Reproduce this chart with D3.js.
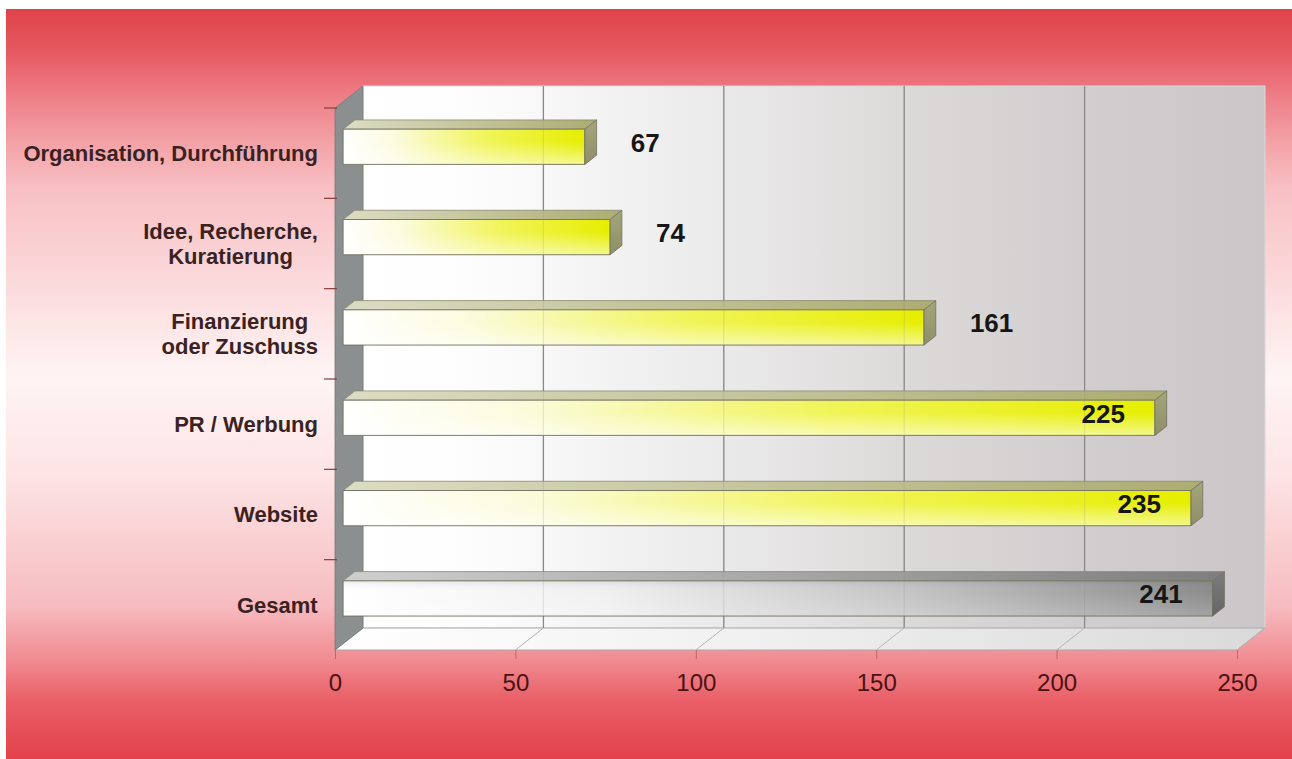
<!DOCTYPE html>
<html><head><meta charset="utf-8">
<script src="https://cdn.jsdelivr.net/npm/d3@7"></script>
<style>body{margin:0;background:#fff;} svg{display:block;}</style>
</head><body>
<svg id="chart" width="1292" height="759"></svg>
<script>
// ---- data ----
const categories = ["Organisation, Durchführung", "Idee, Recherche,\nKuratierung", "Finanzierung\noder Zuschuss", "PR / Werbung", "Website", "Gesamt"];
const values = [67, 74, 161, 225, 235, 241];
const isTotal = [false, false, false, false, false, true];
const xTicks = [0, 50, 100, 150, 200, 250];
const xDomain = [0, 250];

// ---- layout ----
const svg = d3.select("#chart");
const DX = 28, DY = -22;               // depth of the 3D box
const frame = {left: 335, right: 1237, top: 108, bottom: 650};
const barD0 = 0.29, barD1 = 0.71;      // depth span of bars
const x = d3.scaleLinear().domain(xDomain).range([frame.left, frame.right]);
const y = d3.scaleBand().domain(categories).range([frame.top, frame.bottom]);
const barH = y.bandwidth() * 0.39;
const P = (v, yy, d) => [x(v) + d * DX, yy + d * DY];
const poly = pts => "M" + pts.map(p => p.join(",")).join("L") + "Z";

const defs = svg.append("defs");
function lin(id, x2, y2, stops) {
  const g = defs.append("linearGradient").attr("id", id)
    .attr("x1", 0).attr("y1", 0).attr("x2", x2).attr("y2", y2);
  stops.forEach(s => g.append("stop").attr("offset", s[0]).attr("stop-color", s[1])
    .attr("stop-opacity", s[2] === undefined ? 1 : s[2]));
}
lin("bg", 0, 1, [[0, "#df434a"], [0.055, "#e65860"], [0.12, "#ee8088"], [0.19, "#f4a8ad"], [0.24, "#f8c0c4"],
  [0.49, "#fff4f4"], [0.62, "#fde4e5"], [0.795, "#f6bcc0"], [0.87, "#f08a90"], [0.92, "#ea6068"], [1, "#e3414b"]]);
lin("wall", 1, 0, [[0, "#ffffff"], [0.12, "#fdfdfd"], [0.4, "#ebeaea"], [0.6, "#dcd9d9"], [0.8, "#d2cecf"], [1, "#cbc7c8"]]);
lin("floor", 1, 0, [[0, "#ffffff"], [0.4, "#f2f2f2"], [1, "#dadada"]]);
lin("fY", 1, 0, [[0, "#ffffff"], [0.22, "#fbfbdc"], [0.6, "#f1f458"], [1, "#e6ee00"]]);
lin("fG", 1, 0, [[0, "#ffffff"], [0.3, "#f0f0f0"], [0.65, "#c4c4c4"], [1, "#8c8c8c"]]);
lin("shineY", 0, 1, [[0, "#ffffff", 0], [0.35, "#ffffff", 0], [1, "#ffffff", 0.55]]);
lin("shineG", 0, 1, [[0, "#000000", 0.08], [0.3, "#ffffff", 0], [1, "#ffffff", 0.2]]);
lin("tY", 1, 0, [[0, "#dcdcc4"], [1, "#acac72"]]);
lin("tG", 1, 0, [[0, "#cfcfcf"], [1, "#7e7e7e"]]);
lin("sY", 0, 1, [[0, "#a6a67a"], [1, "#8e8e68"]]);
lin("sG", 0, 1, [[0, "#7c7c7c"], [1, "#666666"]]);

// background
svg.append("rect").attr("x", 6).attr("y", 9).attr("width", 1286).attr("height", 750).attr("fill", "url(#bg)");

const yTop = frame.top, yBot = frame.bottom;
// back wall
const bw0 = P(xDomain[0], yTop, 1), bw1 = P(xDomain[1], yBot, 1);
svg.append("rect").attr("x", bw0[0]).attr("y", bw0[1]).attr("width", bw1[0] - bw0[0]).attr("height", bw1[1] - bw0[1])
  .attr("fill", "url(#wall)").attr("stroke", "#d8d8d8").attr("stroke-width", 1);
// floor
svg.append("path").attr("d", poly([P(0, yBot, 0), P(xDomain[1], yBot, 0), P(xDomain[1], yBot, 1), P(0, yBot, 1)]))
  .attr("fill", "url(#floor)").attr("stroke", "#a8a8a8").attr("stroke-width", 1);
// left wall
svg.append("path").attr("d", poly([P(0, yTop, 0), P(0, yTop, 1), P(0, yBot, 1), P(0, yBot, 0)]))
  .attr("fill", "#8b8f8f").attr("stroke", "#777").attr("stroke-width", 0.8);

// gridlines
const inner = xTicks.filter(t => t > xDomain[0] && t < xDomain[1]);
svg.append("g").selectAll("line").data(inner).join("line")
  .attr("x1", t => P(t, yTop, 1)[0]).attr("y1", t => P(t, yTop, 1)[1])
  .attr("x2", t => P(t, yBot, 1)[0]).attr("y2", t => P(t, yBot, 1)[1])
  .attr("stroke", "#8a8a8a").attr("stroke-width", 1.3);
svg.append("g").selectAll("line").data(xTicks.slice(1)).join("line")
  .attr("x1", t => P(t, yBot, 0)[0]).attr("y1", t => P(t, yBot, 0)[1])
  .attr("x2", t => P(t, yBot, 1)[0]).attr("y2", t => P(t, yBot, 1)[1])
  .attr("stroke", "#b5b5b5").attr("stroke-width", 1);

// bars
const rows = categories.map((c, i) => ({c, v: values[i], total: isTotal[i]}));
const bars = svg.append("g").selectAll("g").data(rows).join("g");
bars.each(function(d) {
  const g = d3.select(this);
  const yc = y(d.c) + y.bandwidth() / 2;
  const t = yc - barH / 2, b = yc + barH / 2;
  const sfx = d.total ? "G" : "Y";
  g.append("path").attr("d", poly([P(0, t, barD0), P(d.v, t, barD0), P(d.v, t, barD1), P(0, t, barD1)]))
    .attr("fill", `url(#t${sfx})`).attr("stroke", "#8a8a70").attr("stroke-width", 0.8);
  const fp = poly([P(0, t, barD0), P(d.v, t, barD0), P(d.v, b, barD0), P(0, b, barD0)]);
  g.append("path").attr("d", fp).attr("fill", `url(#f${sfx})`);
  g.append("path").attr("d", fp).attr("fill", `url(#shine${sfx})`).attr("stroke", "#6f6f60").attr("stroke-width", 0.9);
  g.append("path").attr("d", poly([P(d.v, t, barD0), P(d.v, t, barD1), P(d.v, b, barD1), P(d.v, b, barD0)]))
    .attr("fill", `url(#s${sfx})`).attr("stroke", "#707060").attr("stroke-width", 0.8);
});

// faint gridlines visible through bars
svg.append("g").selectAll("line").data(inner).join("line")
  .attr("x1", t => P(t, yTop, 1)[0]).attr("y1", t => P(t, yTop, 1)[1])
  .attr("x2", t => P(t, yBot, 1)[0]).attr("y2", t => P(t, yBot, 1)[1])
  .attr("stroke", "#8a8a8a").attr("stroke-width", 1).attr("opacity", 0.22);

// value labels
const vl = svg.append("g").attr("font-family", "Liberation Sans, Arial, sans-serif")
  .attr("font-weight", "bold").attr("font-size", 26).attr("fill", "#161616");
rows.forEach(d => {
  const yc = y(d.c) + y.bandwidth() / 2 + 0.5 * DY;
  const inside = d.v / xDomain[1] > 0.8;
  vl.append("text")
    .attr("x", inside ? x(d.v) + barD0 * DX - 30 : x(d.v) + 0.5 * DX + 40)
    .attr("y", yc).attr("dy", "0.36em")
    .attr("text-anchor", inside ? "end" : "start")
    .text(d3.format("d")(d.v));
});

// category labels
const cl = svg.append("g").attr("font-family", "Liberation Sans, Arial, sans-serif")
  .attr("font-weight", "bold").attr("font-size", 22).attr("fill", "#3a2222");
categories.forEach(c => {
  const lines = c.split("\n");
  const yc = y(c) + y.bandwidth() / 2;
  const tx = cl.append("text").attr("text-anchor", "middle");
  lines.forEach((ln, i) => tx.append("tspan").attr("x", 0)
    .attr("y", yc + (i - (lines.length - 1) / 2) * 25).attr("dy", "0.36em").text(ln));
  const w = tx.node().getBBox().width;
  tx.selectAll("tspan").attr("x", 318 - w / 2);
});

// left ticks at band boundaries
svg.append("g").selectAll("line").data(categories).join("line")
  .attr("x1", frame.left - 11).attr("x2", frame.left + 2)
  .attr("y1", c => y(c)).attr("y2", c => y(c))
  .attr("stroke", "#8a3a3a").attr("stroke-width", 1.2);

// x axis
const ax = svg.append("g").attr("transform", `translate(0,${frame.bottom})`)
  .call(d3.axisBottom(x).tickValues(xTicks).tickSize(9).tickFormat(d3.format("d")));
ax.select(".domain").remove();
ax.selectAll(".tick line").attr("stroke", "#b86a6a").attr("stroke-width", 1);
ax.selectAll(".tick text").attr("y", 24).attr("fill", "#4a1212")
  .attr("font-family", "Liberation Sans, Arial, sans-serif").attr("font-size", 24);
</script>
</body></html>
